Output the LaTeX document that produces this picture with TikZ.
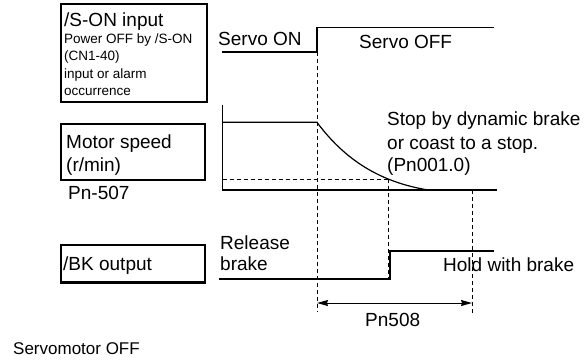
\documentclass[tikz,border=0pt]{standalone}
\usepackage{fontspec}
\setmainfont{Liberation Sans}
\usetikzlibrary{arrows.meta}
\begin{document}
\begin{tikzpicture}[x=1pt,y=-1pt,
  box/.style={draw, line width=2.4pt},
  sig/.style={line width=1.2pt},
  guide/.style={line width=0.8pt, dash pattern=on 4pt off 3pt},
  lbl/.style={inner sep=0pt, anchor=base west, font=\fontsize{19}{22}\selectfont},
  small/.style={inner sep=0pt, anchor=base west, font=\fontsize{13.5}{16}\selectfont},
  foot/.style={inner sep=0pt, anchor=base west, font=\fontsize{17}{20}\selectfont},
  dim/.style={line width=1pt, {Stealth[length=11pt,width=6pt,inset=1pt]}-{Stealth[length=11pt,width=6pt,inset=1pt]}},
]
\useasboundingbox (0,0) rectangle (586,360);
% boxes
\draw[box] (61.2,4.2) rectangle (206.8,101.8);
\draw[box] (61.2,124.2) rectangle (205,180);
\draw[box] (61.2,245) rectangle (205,282.5);
% box texts
\node[lbl] (son) at (64,26.5) {/S-ON input};
\node[small] (s1) at (64,43) {Power OFF by /S-ON};
\node[small] (s2) at (64,60) {(CN1-40)};
\node[small] (s3) at (64,78) {input or alarm};
\node[small] (s4) at (64,95) {occurrence};
\node[lbl] (ms) at (66,148.5) {Motor speed};
\node[lbl] (rm) at (66,171.5) {(r/min)};
\node[lbl] (pn507) at (68,199.5) {Pn-507};
\node[lbl] (bk) at (63,270.5) {/BK output};
% servo signal
\node[lbl] (son2) at (218,45.5) {Servo ON};
\node[lbl] (soff) at (359,48.5) {Servo OFF};
\draw[sig] (222,52) -- (317,52) -- (317,27.5) -- (494,27.5);
% motor speed
\draw[sig] (222.5,105) -- (222.5,190) -- (497,190);
\draw[sig] (222.5,122.3) -- (317,122.3) .. controls (345,160) and (380,182) .. (428,190);
\node[lbl] (st1) at (387,125.5) {Stop by dynamic brake};
\node[lbl] (st2) at (387,149.5) {or coast to a stop.};
\node[lbl] (st3) at (387,171.5) {(Pn001.0)};
% guides
\draw[guide] (222.5,179) -- (389,179);
\draw[guide] (317,52) -- (317,312);
\draw[guide] (388.5,179) -- (388.5,279);
\draw[guide] (472,190) -- (472,315);
% brake signal
\node[lbl] (rel) at (220,249.5) {Release};
\node[lbl] (brk) at (220,270.5) {brake};
\draw[sig] (219,279) -- (390,279) -- (390,251) -- (494,251);
\node[lbl] (hold) at (443,271.5) {Hold with brake};
% dimension
\coordinate (d1) at (317,303);
\coordinate (d2) at (472,303);
\draw[dim] (d1) -- (d2);
\node[lbl] (pn508) at (365,326.5) {Pn508};
\node[foot] (smoff) at (13,354) {Servomotor OFF};
\end{tikzpicture}
\end{document}
